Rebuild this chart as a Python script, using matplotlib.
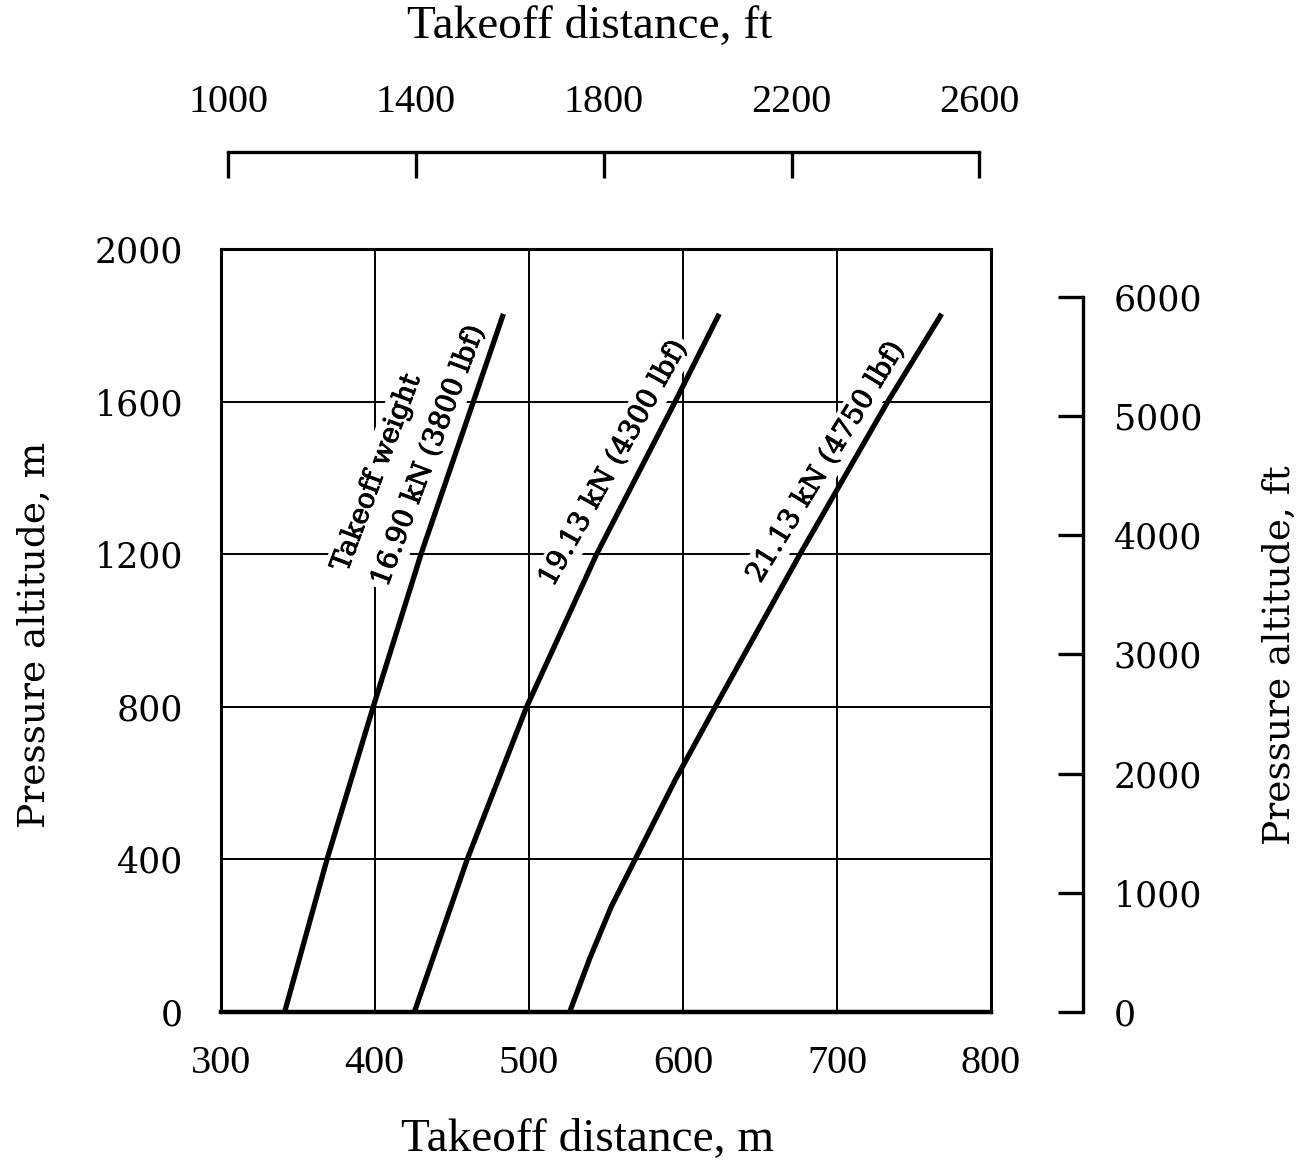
import matplotlib
matplotlib.use("Agg")
import matplotlib.pyplot as plt
import matplotlib.patheffects as pe
from matplotlib.ticker import FixedLocator

# Takeoff distance (m) versus pressure altitude (m) for three takeoff weights
alt_1690 = [0, 400, 800, 1200, 1600, 1830]
dist_1690 = [341.5, 369, 399, 430, 464, 483.5]

alt_1913 = [0, 400, 800, 1200, 1600, 1830]
dist_1913 = [425.7, 460, 498.6, 544, 595, 623.6]

alt_2113 = [0, 140, 276, 400, 608, 800, 1200, 1600, 1830]
dist_2113 = [526.5, 539.5, 553.5, 569, 595, 621, 676, 733, 768]

curve_labels = ["Takeoff weight\n16.90 kN (3800 lbf)",
                "19.13 kN (4300 lbf)",
                "21.13 kN (4750 lbf)"]

x_ticks_m = [300, 400, 500, 600, 700, 800]
y_ticks_m = [0, 400, 800, 1200, 1600, 2000]
x_ticks_ft = [1000, 1400, 1800, 2200, 2600]
y_ticks_ft = [0, 1000, 2000, 3000, 4000, 5000, 6000]

SERIF_WIDE = "DejaVu Serif"
SERIF_NARROW = "Liberation Serif"

W, H = 1300, 1160
fig = plt.figure(figsize=(W / 100, H / 100), dpi=100)

L, R, B, T = 220.7, 991, 1012, 249
ax = fig.add_axes([L / W, 1 - B / H, (R - L) / W, (B - T) / H])
ax.set_xlim(300, 800)
ax.set_ylim(0, 2000)
ax.xaxis.set_major_locator(FixedLocator(x_ticks_m))
ax.yaxis.set_major_locator(FixedLocator(y_ticks_m))
ax.grid(True, color="black", linewidth=1.4, zorder=0.5)
ax.set_axisbelow(True)
for s in ax.spines.values():
    s.set_linewidth(2.2)
ax.spines["bottom"].set_linewidth(3.2)
ax.tick_params(axis="x", length=0, pad=24, labelsize=29)
ax.tick_params(axis="y", length=0, pad=27, labelsize=25)
for lbl in ax.get_xticklabels():
    lbl.set_family(SERIF_NARROW)
for lbl in ax.get_yticklabels():
    lbl.set_family(SERIF_WIDE)

for dist, alt in [(dist_1690, alt_1690), (dist_1913, alt_1913), (dist_2113, alt_2113)]:
    ax.plot(dist, alt, color="black", linewidth=3.8, solid_capstyle="butt",
            solid_joinstyle="round", zorder=4)

# Weight labels written along each curve; the white box breaks the grid behind them
label_specs = [(422.0, 1478, 69.5), (555.0, 1439, 61), (693.0, 1442, 58.5)]
for text, (x, y, rot) in zip(curve_labels, label_specs):
    t = ax.text(x, y, text, rotation=rot, rotation_mode="anchor", ha="center", va="center",
                multialignment="left", fontsize=20, family=SERIF_WIDE, linespacing=1.75,
                zorder=2, bbox=dict(boxstyle="square,pad=0.12", fc="white", ec="none"))
    t.set_path_effects([pe.withStroke(linewidth=0.7, foreground="black")])

# Feet scale across the top
ax_top = fig.add_axes([L / W, 1 - 152 / H, (R - L) / W, 0.0001])
ax_top.set_xlim(300 / 0.3048, 800 / 0.3048)
ax_top.patch.set_visible(False)
for name in ["left", "right", "bottom"]:
    ax_top.spines[name].set_visible(False)
ax_top.spines["top"].set_linewidth(2.4)
ax_top.spines["top"].set_bounds(x_ticks_ft[0], x_ticks_ft[-1])
ax_top.xaxis.tick_top()
ax_top.set_xticks(x_ticks_ft)
ax_top.set_yticks([])
ax_top.tick_params(axis="x", direction="in", length=19, width=2.4, pad=22, labelsize=29)
for lbl in ax_top.get_xticklabels():
    lbl.set_family(SERIF_NARROW)

# Feet scale on the right
ax_right = fig.add_axes([1083 / W, 1 - B / H, 0.0001, (B - T) / H])
ax_right.set_ylim(0, 6400)
ax_right.patch.set_visible(False)
for name in ["left", "top", "bottom"]:
    ax_right.spines[name].set_visible(False)
ax_right.spines["right"].set_linewidth(2.4)
ax_right.spines["right"].set_bounds(y_ticks_ft[0], y_ticks_ft[-1])
ax_right.yaxis.tick_right()
ax_right.set_yticks(y_ticks_ft)
ax_right.set_xticks([])
ax_right.tick_params(axis="y", direction="in", length=18, width=2.4, pad=22, labelsize=25)
for lbl in ax_right.get_yticklabels():
    lbl.set_family(SERIF_WIDE)

fig.text(588 / W, 1 - 1140 / H, "Takeoff distance, m", ha="center", va="center",
         fontsize=34, family=SERIF_NARROW)
fig.text(590 / W, 1 - 27 / H, "Takeoff distance, ft", ha="center", va="center",
         fontsize=34, family=SERIF_NARROW)
fig.text(35 / W, 1 - 635 / H, "Pressure altitude, m", ha="center", va="center",
         rotation=90, fontsize=27, family=SERIF_WIDE)
fig.text(1280 / W, 1 - 655 / H, "Pressure altitude, ft", ha="center", va="center",
         rotation=90, fontsize=27, family=SERIF_WIDE)

fig.savefig("out.png", dpi=100, facecolor="white")
